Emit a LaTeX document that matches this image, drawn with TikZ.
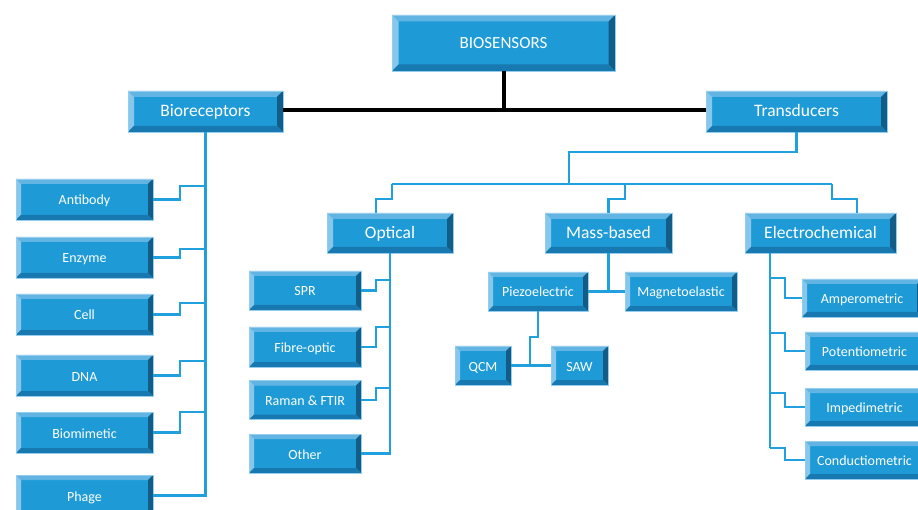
\documentclass[tikz,border=0pt]{standalone}
\usepackage{fontspec}
\setmainfont{Carlito}
\usetikzlibrary{calc}
\definecolor{face}{RGB}{30,155,215}
\definecolor{bvtop}{RGB}{98,180,226}
\definecolor{bvleft}{RGB}{135,199,236}
\definecolor{bvright}{RGB}{18,92,136}
\definecolor{bvbot}{RGB}{24,120,176}
\definecolor{edgec}{RGB}{150,205,236}
\definecolor{connc}{RGB}{32,160,220}
\newcommand\bevelpic[1]{%
 \coordinate (pa) at (path picture bounding box.north west);
 \coordinate (pc) at (path picture bounding box.south east);
 \coordinate (pb) at (pa -| pc);
 \coordinate (pd) at (pa |- pc);
 \fill[bvtop] (pa) -- (pb) -- ($(pb)+(-#1,-#1)$) -- ($(pa)+(#1,-#1)$) -- cycle;
 \fill[bvleft] (pa) -- ($(pa)+(#1,-#1)$) -- ($(pd)+(#1,#1)$) -- (pd) -- cycle;
 \fill[bvright] (pb) -- (pc) -- ($(pc)+(-#1,#1)$) -- ($(pb)+(-#1,-#1)$) -- cycle;
 \fill[bvbot] (pd) -- (pc) -- ($(pc)+(-#1,#1)$) -- ($(pd)+(#1,#1)$) -- cycle;
}
\tikzset{
 boxbase/.style={rectangle, fill=face, draw=edgec, line width=0.6pt, inner sep=0pt, outer sep=0pt, text=white, text height=1.1em, text depth=0pt},
 bigbox/.style={boxbase, path picture={\bevelpic{6.5pt}}, font=\fontsize{17}{20}\selectfont},
 midbox/.style={boxbase, path picture={\bevelpic{6pt}}, font=\fontsize{17.5}{21}\selectfont},
 smallbox/.style={boxbase, path picture={\bevelpic{5pt}}, font=\fontsize{14}{17}\selectfont},
 conn/.style={draw=connc, line width=2.6pt},
 blk/.style={draw=black, line width=4pt},
}
\begin{document}
\begin{tikzpicture}[x=1pt,y=-1pt]
\clip (0,0) rectangle (918,510);
\fill[white] (0,0) rectangle (918,510);
% boxes
\node[bigbox, minimum width=223pt, minimum height=56pt] (bio) at (503.5,43) {BIOSENSORS};
\node[midbox, minimum width=155pt, minimum height=41pt] (brec) at (205.5,111.5) {Bioreceptors};
\node[midbox, minimum width=181pt, minimum height=41pt] (trans) at (796.5,111.5) {Transducers};
\node[midbox, minimum width=126pt, minimum height=40pt] (optical) at (390,233) {Optical};
\node[midbox, minimum width=127pt, minimum height=40pt] (mass) at (608.5,233) {Mass-based};
\node[midbox, minimum width=151pt, minimum height=40pt] (electro) at (820.5,233) {Electrochemical};
% bioreceptors
\node[smallbox, minimum width=137pt, minimum height=41pt] (antibody) at (84.5,199.5) {Antibody};
\node[smallbox, minimum width=137pt, minimum height=41pt] (enzyme) at (84.5,257.5) {Enzyme};
\node[smallbox, minimum width=137pt, minimum height=41pt] (cell) at (84.5,314.5) {Cell};
\node[smallbox, minimum width=137pt, minimum height=41pt] (dna) at (84.5,375.5) {DNA};
\node[smallbox, minimum width=137pt, minimum height=41pt] (biomim) at (84.5,432.5) {Biomimetic};
\node[smallbox, minimum width=137pt, minimum height=41pt] (phage) at (84.5,495.5) {Phage};
% optical
\node[smallbox, minimum width=112pt, minimum height=39pt] (spr) at (305,290.5) {SPR};
\node[smallbox, minimum width=112pt, minimum height=40pt] (fibre) at (305,347) {Fibre-optic};
\node[smallbox, minimum width=112pt, minimum height=39pt] (raman) at (305,400) {Raman \& FTIR};
\node[smallbox, minimum width=112pt, minimum height=39pt] (other) at (305,453.5) {Other};
% mass
\node[smallbox, minimum width=100pt, minimum height=39pt] (piezo) at (538,291.5) {Piezoelectric};
\node[smallbox, minimum width=112pt, minimum height=39pt] (magneto) at (681,291.5) {Magnetoelastic};
\node[smallbox, minimum width=56pt, minimum height=39pt] (qcm) at (483,365.5) {QCM};
\node[smallbox, minimum width=57pt, minimum height=39pt] (saw) at (579.5,365.5) {SAW};
% electrochemical
\node[smallbox, minimum width=120pt, minimum height=38pt] (ampero) at (862,298) {Amperometric};
\node[smallbox, minimum width=119pt, minimum height=38pt] (potentio) at (864.5,351) {Potentiometric};
\node[smallbox, minimum width=119pt, minimum height=38pt] (impedi) at (864.5,407) {Impedimetric};
\node[smallbox, minimum width=119pt, minimum height=38pt] (conducti) at (864.5,460) {Conductiometric};
% black connectors
\draw[blk] (bio.south) -- (bio.south |- 0,110);
\draw[blk] (brec.east |- 0,110) -- (trans.west |- 0,110);
% bioreceptors
\draw[conn] (brec.south) |- (phage.east);
\draw[conn] (antibody.east) -| (180,186) -- (brec.south |- 0,186);
\draw[conn] (enzyme.east) -| (180,249) -- (brec.south |- 0,249);
\draw[conn] (cell.east) -| (180,303) -- (brec.south |- 0,303);
\draw[conn] (dna.east) -| (180,361) -- (brec.south |- 0,361);
\draw[conn] (biomim.east) -| (180,412) -- (brec.south |- 0,412);
% transducers
\coordinate (busL) at (392,184);
\coordinate (busR) at (832,184);
\draw[conn] (trans.south) |- (569,152) -- (569,184);
\draw[conn] (busL) -- (busR);
\draw[conn] (busL) -- (392,199) -| (optical.north -| 376,0);
\draw[conn] (625,184) -- (625,199) -| (mass.north);
\draw[conn] (busR) -- (832,199) -| (electro.north -| 857,0);
% optical
\draw[conn] (optical.south) |- (other.east);
\draw[conn] (spr.east) -| (376,280) -- (optical.south |- 0,280);
\draw[conn] (fibre.east) -| (376,327) -- (optical.south |- 0,327);
\draw[conn] (raman.east) -| (376,388) -- (optical.south |- 0,388);
% mass
\draw[conn] (mass.south) -- (mass.south |- piezo.east);
\draw[conn] (piezo.east) -- (magneto.west);
\draw[conn] (piezo.south) |- (530,337) -- (qcm.east -| 530,0);
\draw[conn] (qcm.east) -- (saw.west);
% electrochemical
\draw[conn] (electro.south -| 770,0) -- (770,448);
\draw[conn] (770,278) -| (ampero.west -| 785,0) -- (ampero.west);
\draw[conn] (770,333) -| (potentio.west -| 785,0) -- (potentio.west);
\draw[conn] (770,393) -| (impedi.west -| 785,0) -- (impedi.west);
\draw[conn] (770,448) -| (conducti.west -| 785,0) -- (conducti.west);
\end{tikzpicture}
\end{document}
